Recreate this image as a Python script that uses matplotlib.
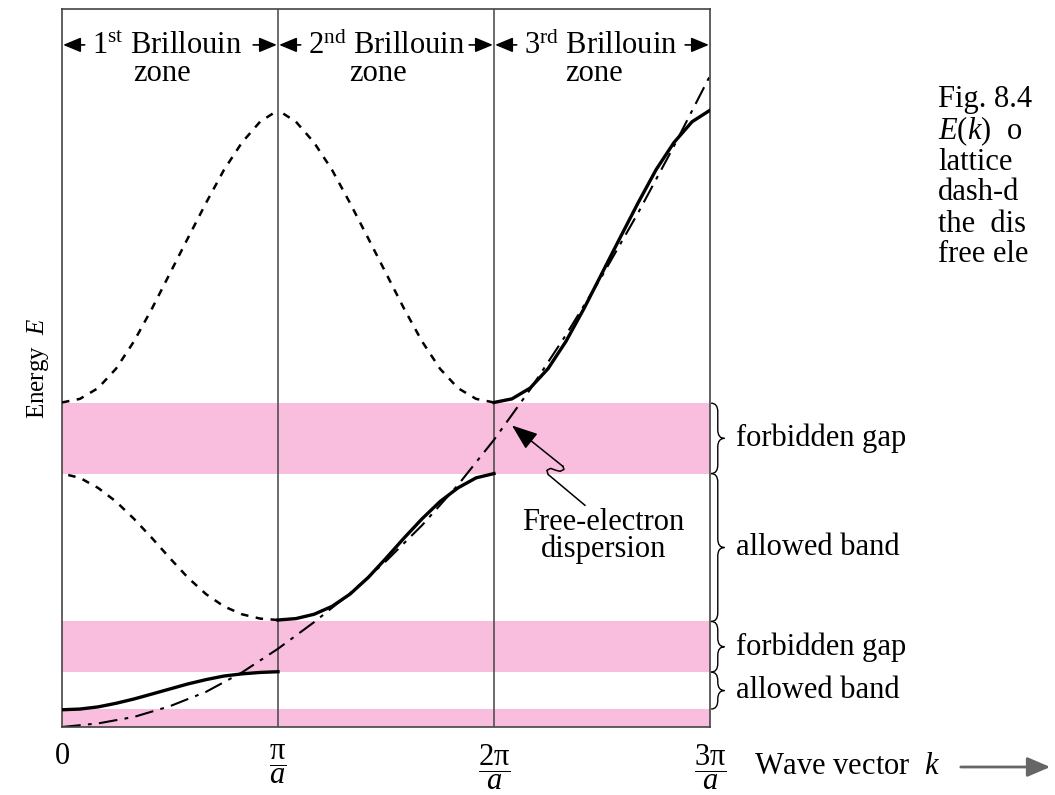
import matplotlib
matplotlib.use("Agg")
import matplotlib.pyplot as plt
from matplotlib.path import Path
from matplotlib.patches import PathPatch, FancyArrowPatch

plt.rcParams['font.family'] = ['Liberation Serif', 'DejaVu Serif']
plt.rcParams['mathtext.fontset'] = 'custom'
plt.rcParams['mathtext.rm'] = 'Liberation Serif'
plt.rcParams['mathtext.it'] = 'Liberation Serif:italic'
plt.rcParams['mathtext.bf'] = 'Liberation Serif:bold'

# k in units of pi/a, E in arbitrary units
k_zone = [0.0, 0.083, 0.167, 0.25, 0.333, 0.417, 0.5, 0.583, 0.667, 0.75, 0.833, 0.917, 1.0]
band1_E = [0.24, 0.25, 0.28, 0.33, 0.39, 0.46, 0.53, 0.60, 0.66, 0.71, 0.74, 0.76, 0.77]
band2_E = [1.49, 1.51, 1.57, 1.68, 1.85, 2.08, 2.35, 2.63, 2.90, 3.14, 3.33, 3.47, 3.53]
band3_E = [4.52, 4.57, 4.72, 4.99, 5.37, 5.83, 6.32, 6.81, 7.30, 7.76, 8.14, 8.43, 8.59]

k_free = [0.0, 0.167, 0.333, 0.5, 0.667, 0.833, 1.0, 1.167, 1.333, 1.5, 1.667, 1.833,
          2.0, 2.167, 2.333, 2.5, 2.667, 2.833, 3.0]
E_free = [0.0, 0.05, 0.14, 0.29, 0.49, 0.76, 1.09, 1.46, 1.86, 2.31, 2.81, 3.37,
          4.00, 4.70, 5.46, 6.28, 7.16, 8.09, 9.07]

gaps = [(0.0, 0.25), (0.765, 1.47), (3.53, 4.51)]
brace_ranges = [(3.53, 4.51), (1.47, 3.53), (0.765, 1.47), (0.25, 0.765)]
brace_labels = ["forbidden gap", "allowed band", "forbidden gap", "allowed band"]
tick_pos = [0, 1, 2, 3]
tick_labels = ["0", r"$\dfrac{\mathrm{π}}{a}$", r"$\dfrac{2\mathrm{π}}{a}$",
               r"$\dfrac{3\mathrm{π}}{a}$"]
zone_names = [("1", "st"), ("2", "nd"), ("3", "rd")]
caption = ["Fig. 8.4", "$E$($k$)  o", "lattice", "dash-d", "the  dis", "free ele"]

pink = '#f9bedd'
fs = 22

fig = plt.figure(figsize=(10.55, 7.95), dpi=100)
ax = fig.add_axes([62 / 1055, 1 - 727 / 795, 648 / 1055, 718 / 795])
ax.set_xlim(0, 3)
ax.set_ylim(0, 10)

for lo, hi in gaps:
    ax.axhspan(lo, hi, color=pink, lw=0, zorder=0)
for k in [1, 2]:
    ax.axvline(k, color='#444444', lw=1.1, zorder=1)

ax.plot(k_free, E_free, color='black', lw=1.5, dashes=(9, 3.5, 1.8, 3.5), zorder=2)

# reduced-zone copies (dashed)
dash_kw = dict(color='black', lw=1.8, dashes=(3, 3), zorder=3)
ax.plot([1 - k for k in k_zone], band2_E, **dash_kw)
ax.plot(k_zone, band3_E, **dash_kw)
ax.plot([2 - k for k in k_zone], band3_E, **dash_kw)

# extended zone bands
solid_kw = dict(color='black', lw=2.4, zorder=4, solid_joinstyle='round')
ax.plot(k_zone, band1_E, **solid_kw)
ax.plot([1 + k for k in k_zone], band2_E, **solid_kw)
ax.plot([2 + k for k in k_zone], band3_E, **solid_kw)

for s in ax.spines.values():
    s.set_color('#444444')
    s.set_linewidth(1.2)
ax.set_yticks([])
ax.set_xticks(tick_pos)
ax.set_xticklabels(tick_labels, fontsize=fs)
ax.tick_params(axis='x', length=0, pad=11)

ax.set_ylabel("Energy  $E$", fontsize=18, labelpad=8)

# zone headers
for i, (num, sup) in enumerate(zone_names):
    ax.text(i + 0.139, 9.37, num + r"$^{\mathrm{" + sup + "}}$ Brillouin", fontsize=fs,
            ha='left', va='baseline')
    ax.text(i + 0.329, 9.0, "zone", fontsize=fs, ha='left', va='baseline')
    ap = dict(arrowstyle='-|>,head_length=0.6,head_width=0.25', color='black', lw=1.2,
              mutation_scale=18, shrinkA=0, shrinkB=0)
    ax.annotate('', xy=(i + 0.005, 9.5), xytext=(i + 0.105, 9.5), arrowprops=ap)
    ax.annotate('', xy=(i + 0.995, 9.5), xytext=(i + 0.885, 9.5), arrowprops=ap)

# braces and labels on the right
for (lo, hi), lab in zip(brace_ranges, brace_labels):
    x0, w, q = 3.005, 0.062, 0.12
    xm = x0 + w / 2
    ym = (lo + hi) / 2
    verts = [(x0, hi), (xm, hi), (xm, hi - q),
             (xm, ym + q),
             (xm, ym), (x0 + w, ym),
             (xm, ym), (xm, ym - q),
             (xm, lo + q),
             (xm, lo), (x0, lo)]
    codes = [Path.MOVETO, Path.CURVE3, Path.CURVE3, Path.LINETO, Path.CURVE3, Path.CURVE3,
             Path.CURVE3, Path.CURVE3, Path.LINETO, Path.CURVE3, Path.CURVE3]
    ax.add_patch(PathPatch(Path(verts, codes), fill=False, lw=1.0, color='black',
                           clip_on=False))
    ax.text(3.12, ym, lab, fontsize=fs, ha='left', va='center')

# free-electron annotation
ax.text(2.505, 2.66, "Free-electron\ndispersion", fontsize=fs, ha='center', va='center',
        linespacing=0.85)
ax.plot([2.421, 2.250, 2.245, 2.262, 2.287, 2.306, 2.324, 2.319],
        [3.088, 3.519, 3.575, 3.602, 3.575, 3.561, 3.588, 3.630],
        color='black', lw=1.1, clip_on=False, zorder=5)
ax.annotate('', xy=(2.083, 4.20), xytext=(2.319, 3.630),
            arrowprops=dict(arrowstyle='-|>,head_length=0.8,head_width=0.3', color='black',
                            lw=1.1, mutation_scale=20, shrinkA=0, shrinkB=0))

# wave vector label
fig.text(754 / 1055, 1 - 766 / 795, "Wave vector  $k$", fontsize=fs, ha='left', va='center')
fig.add_artist(FancyArrowPatch((958 / 1055, 1 - 767 / 795), (1053 / 1055, 1 - 767 / 795),
                               transform=fig.transFigure,
                               arrowstyle='-|>,head_length=0.7,head_width=0.3',
                               mutation_scale=20, color='#666666', lw=2))

# caption fragment on the right
for j, line in enumerate(caption):
    fig.text(938 / 1055, 1 - (100 + 31 * j) / 795, line, fontsize=fs, ha='left', va='center')

fig.savefig("out.png", dpi=100)
